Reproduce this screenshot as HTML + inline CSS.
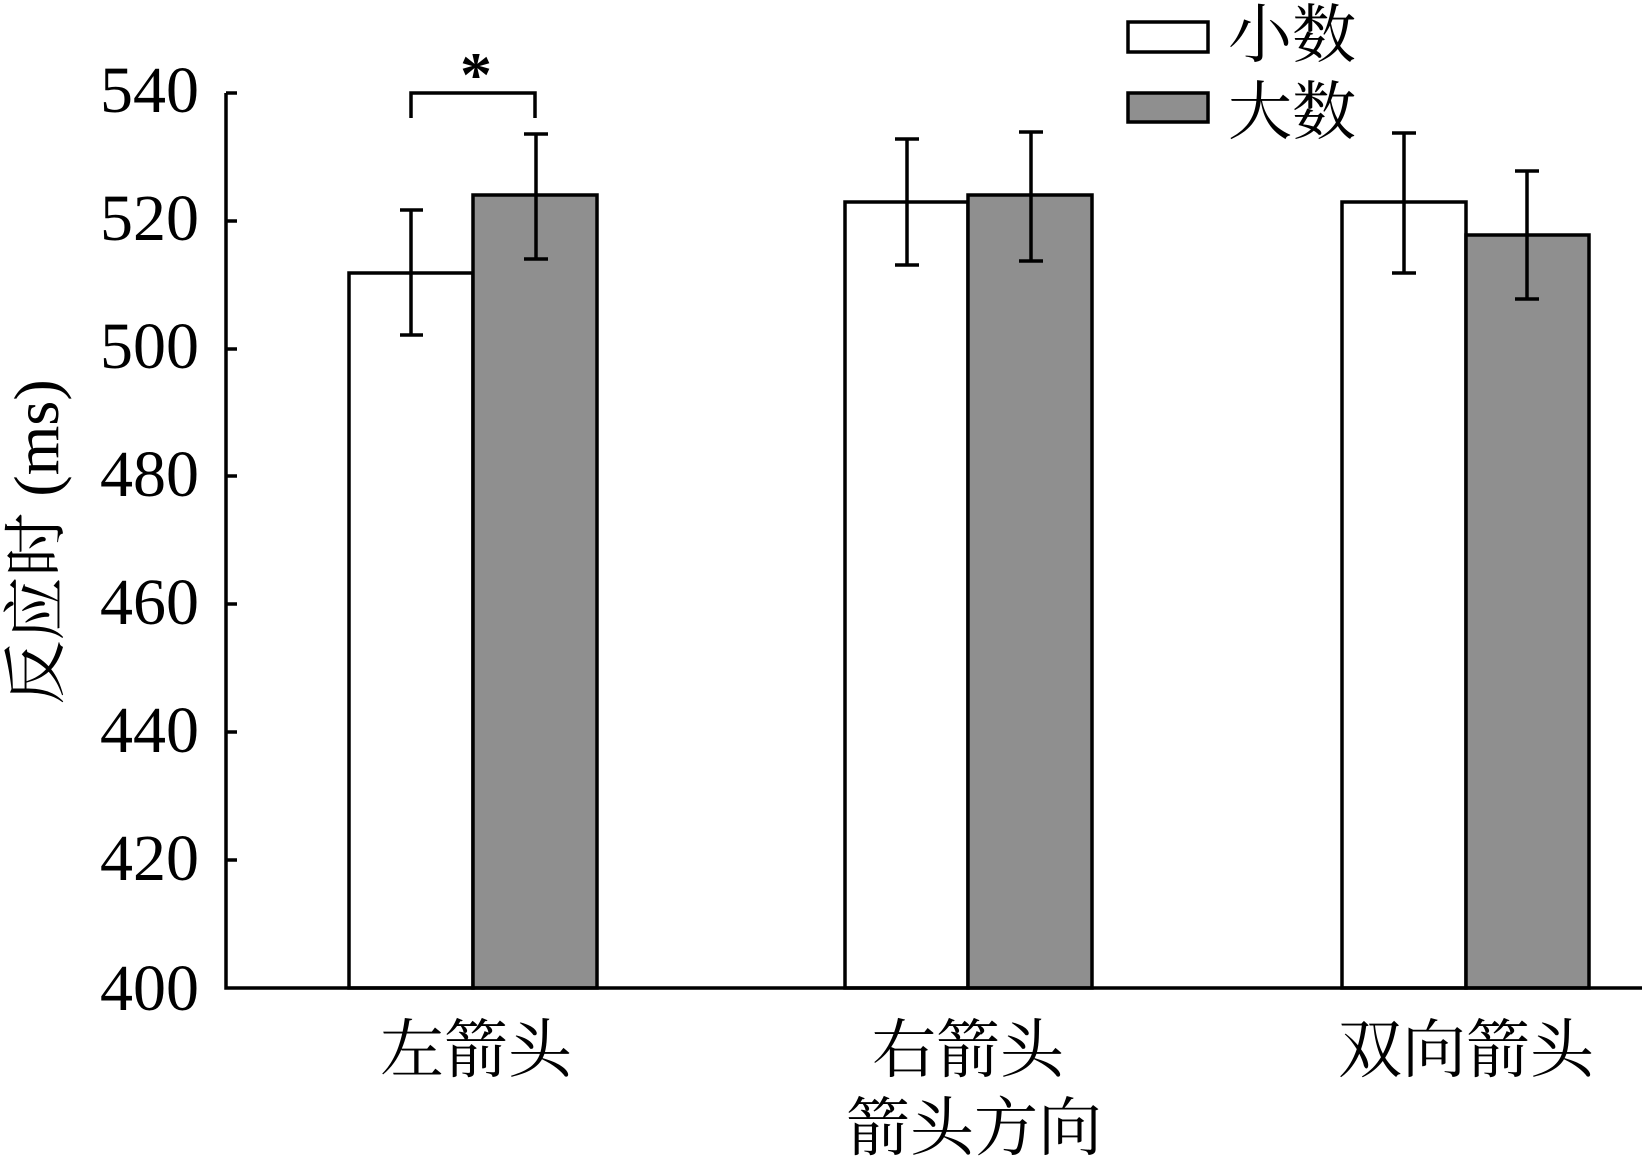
<!DOCTYPE html>
<html><head><meta charset="utf-8"><style>
html,body{margin:0;padding:0;background:#fff;}
svg{display:block;}
</style></head><body>
<svg width="1642" height="1161" viewBox="0 0 1642 1161" xmlns="http://www.w3.org/2000/svg">
<g stroke="#000" stroke-width="3.5">
<rect x="349" y="273" width="124" height="715" fill="#fff"/>
<rect x="473" y="195" width="124" height="793" fill="#8f8f8f"/>
<rect x="845" y="202" width="123" height="786" fill="#fff"/>
<rect x="968" y="195" width="124" height="793" fill="#8f8f8f"/>
<rect x="1342" y="202" width="124" height="786" fill="#fff"/>
<rect x="1466" y="235" width="123" height="753" fill="#8f8f8f"/>
</g>
<g stroke="#000" stroke-width="3.5" fill="none">
<path d="M411 210V335M400 210H423M400 335H423"/>
<path d="M536 134V259M524 134H548M524 259H548"/>
<path d="M907 139V265M895 139H919M895 265H919"/>
<path d="M1031 132V261M1019 132H1043M1019 261H1043"/>
<path d="M1404 133V273M1392 133H1416M1392 273H1416"/>
<path d="M1527 171V299M1515 171H1539M1515 299H1539"/>
<path d="M411 118V93H535V118"/>
<path d="M226 93V988H1642"/>
<path d="M226 93H237M226 221H237M226 349H237M226 476H237M226 604H237M226 732H237M226 860H237"/>
</g>
<text x="476" y="96" text-anchor="middle" font-family="Liberation Serif, serif" font-weight="bold" font-size="64">*</text>
<g font-family="Liberation Serif, serif" font-size="66" text-anchor="end">
<text x="199" y="112">540</text>
<text x="199" y="240">520</text>
<text x="199" y="368">500</text>
<text x="199" y="496">480</text>
<text x="199" y="624">460</text>
<text x="199" y="752">440</text>
<text x="199" y="880">420</text>
<text x="199" y="1010">400</text>
</g>
<rect x="1128" y="22" width="80" height="30" fill="#fff" stroke="#000" stroke-width="3.5"/>
<rect x="1128" y="93" width="80" height="29" fill="#8f8f8f" stroke="#000" stroke-width="3.5"/>
<g font-family="Liberation Serif, Noto Serif CJK SC, serif" font-size="64">
<text x="1228" y="57">小数</text>
<text x="1228" y="134">大数</text>
<g text-anchor="middle">
<text x="476" y="1072">左箭头</text>
<text x="968" y="1072">右箭头</text>
<text x="1466" y="1072">双向箭头</text>
<text x="974" y="1150">箭头方向</text>
</g>
<text transform="translate(58,542) rotate(-90)" text-anchor="middle">反应时 (ms)</text>
</g>
</svg>
</body></html>
